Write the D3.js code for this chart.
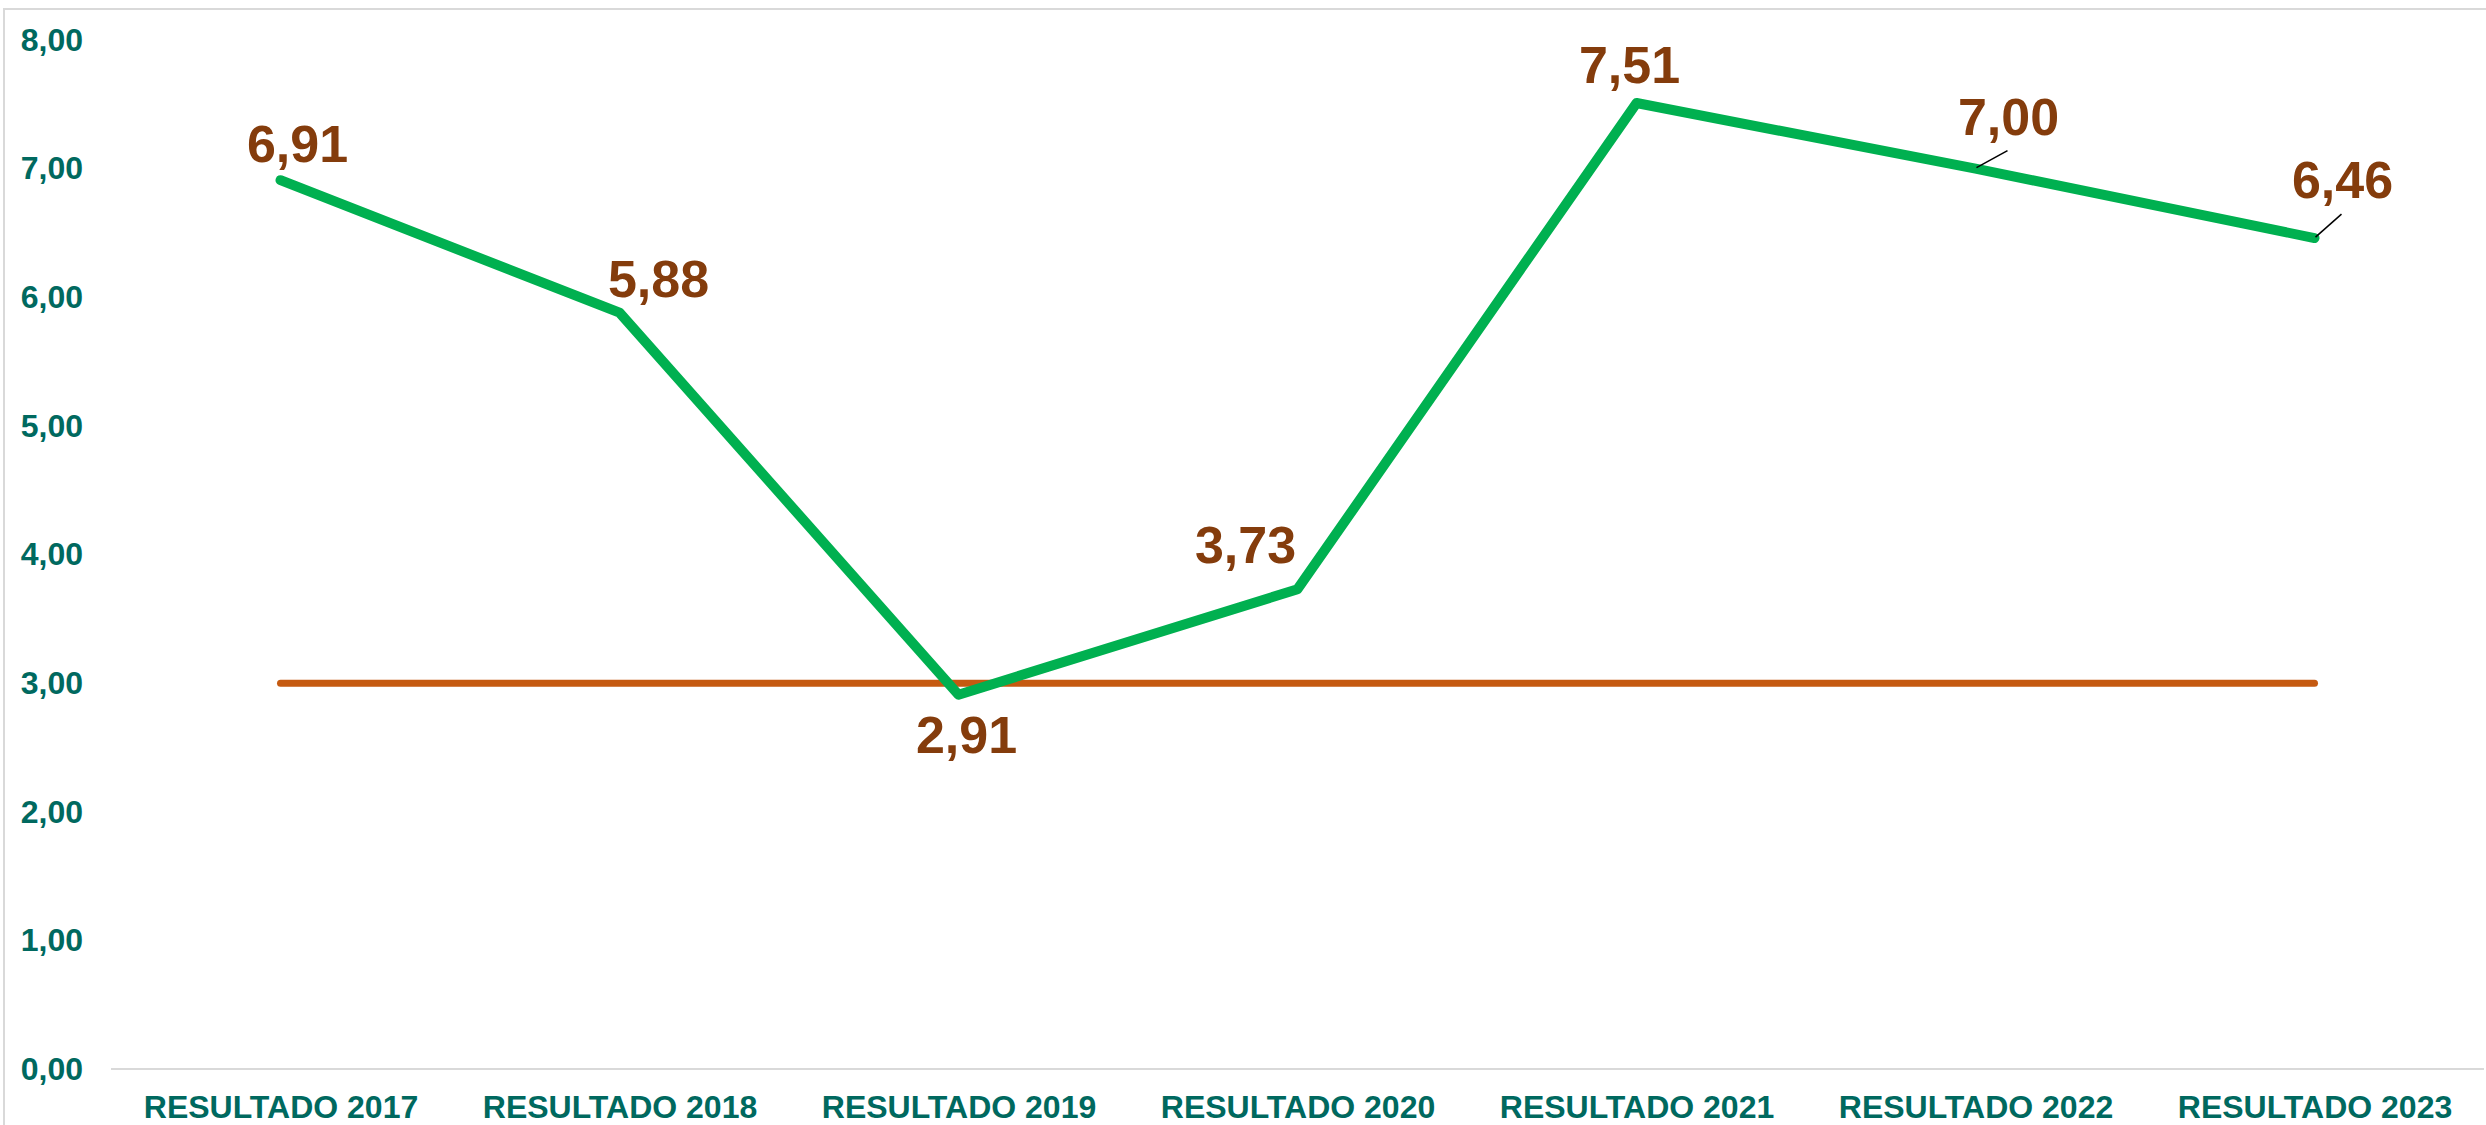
<!DOCTYPE html>
<html>
<head>
<meta charset="utf-8">
<script src="https://cdn.jsdelivr.net/npm/d3@7"></script>
<style>
  html, body { margin: 0; padding: 0; background: #fff; }
  svg { display: block; font-family: "Liberation Sans", Arial, sans-serif; }
</style>
</head>
<body>
<svg id="chart" width="2486" height="1125"></svg>
<script>
// data
const categories = ["RESULTADO 2017", "RESULTADO 2018", "RESULTADO 2019", "RESULTADO 2020",
  "RESULTADO 2021", "RESULTADO 2022", "RESULTADO 2023"];
const resultValues = [6.91, 5.88, 2.91, 3.73, 7.51, 7.00, 6.46];
const targetValues = [3.00, 3.00, 3.00, 3.00, 3.00, 3.00, 3.00];
const yTicks = [0, 1, 2, 3, 4, 5, 6, 7, 8];

// label placement (offset from the point, px), and which labels get a leader line
const labelDx = [17, 39, 8, -52, -7, 33, 28];
const labelDy = [-18, -16, 58, -26, -20, -34, -40];
const leader = [false, false, false, false, false, true, true];

const fmt = v => d3.format(".2f")(v).replace(".", ",");

const svg = d3.select("#chart");

// chart frame
svg.append("rect")
  .attr("x", 4).attr("y", 9)
  .attr("width", 2500).attr("height", 1140)
  .attr("fill", "none")
  .attr("stroke", "#d9d9d9")
  .attr("stroke-width", 2);

const x = d3.scalePoint().domain(categories).range([111, 2484]).padding(0.5);
const y = d3.scaleLinear().domain([0, 8]).range([1069, 40]);

// baseline
svg.append("line")
  .attr("x1", 111).attr("x2", 2484)
  .attr("y1", y(0)).attr("y2", y(0))
  .attr("stroke", "#d9d9d9")
  .attr("stroke-width", 2);

// y axis labels
const yAxis = svg.append("g")
  .attr("transform", "translate(83,0)")
  .call(d3.axisLeft(y).tickValues(yTicks).tickSize(0).tickPadding(0).tickFormat(fmt));
yAxis.select(".domain").remove();
yAxis.selectAll("text")
  .attr("fill", "#00695f")
  .attr("font-size", 32)
  .attr("font-weight", "bold")
  .attr("font-family", "Liberation Sans, Arial, sans-serif");

// x axis labels
const xAxis = svg.append("g")
  .attr("transform", "translate(0,1090)")
  .call(d3.axisBottom(x).tickSize(0).tickPadding(0));
xAxis.select(".domain").remove();
xAxis.selectAll("text")
  .attr("dy", null)
  .attr("y", 28)
  .attr("fill", "#00695f")
  .attr("font-size", 32)
  .attr("font-weight", "bold")
  .attr("font-family", "Liberation Sans, Arial, sans-serif");

// target line
svg.append("path")
  .datum(targetValues)
  .attr("fill", "none")
  .attr("stroke", "#c55a11")
  .attr("stroke-width", 7)
  .attr("stroke-linecap", "round")
  .attr("d", d3.line().x((d, i) => x(categories[i])).y(d => y(d)));

// result line
svg.append("path")
  .datum(resultValues)
  .attr("fill", "none")
  .attr("stroke", "#00b050")
  .attr("stroke-width", 10)
  .attr("stroke-linecap", "round")
  .attr("stroke-linejoin", "round")
  .attr("d", d3.line().x((d, i) => x(categories[i])).y(d => y(d)));

// leader lines
svg.selectAll("line.leader")
  .data(resultValues.map((v, i) => ({v, i})).filter(d => leader[d.i]))
  .enter().append("line")
  .attr("class", "leader")
  .attr("x1", d => x(categories[d.i]) + 1)
  .attr("y1", d => y(d.v) - 1)
  .attr("x2", d => x(categories[d.i]) + labelDx[d.i] - 1)
  .attr("y2", d => y(d.v) + labelDy[d.i] + 16)
  .attr("stroke", "#000")
  .attr("stroke-width", 1.5);

// data labels
svg.selectAll("text.value")
  .data(resultValues)
  .enter().append("text")
  .attr("class", "value")
  .attr("x", (d, i) => x(categories[i]) + labelDx[i])
  .attr("y", (d, i) => y(d) + labelDy[i])
  .attr("text-anchor", "middle")
  .attr("fill", "#843c0c")
  .attr("font-size", 52)
  .attr("font-weight", "bold")
  .text(fmt);
</script>
</body>
</html>
